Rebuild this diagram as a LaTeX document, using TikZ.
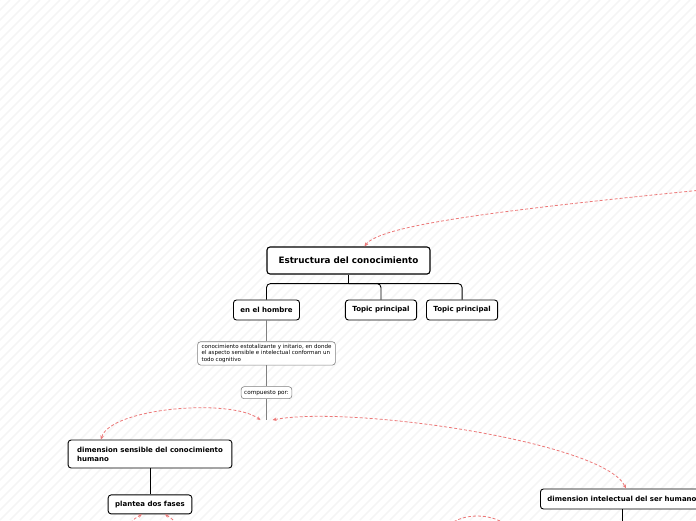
\documentclass[tikz,border=0pt]{standalone}
\usepackage{fontspec}
\setmainfont{DejaVu Sans}
\usetikzlibrary{positioning, arrows.meta}
\definecolor{linkred}{RGB}{236,120,120}
\definecolor{stripegray}{RGB}{245,245,245}

\begin{document}
\begin{tikzpicture}[
        x=1pt, y=-1pt,
        node distance=21pt and 9pt,
        rootbox/.style={draw, fill=white, line width=1.1pt, rounded corners=3pt, minimum width=163pt, minimum height=27pt, font=\fontsize{8.8}{10}\selectfont\bfseries, align=center},
        topic/.style={draw, fill=white, line width=0.9pt, rounded corners=3pt, minimum height=20pt, inner xsep=7pt, font=\fontsize{7}{9}\selectfont\bfseries, align=left},
        note/.style={draw=gray, fill=white, line width=0.6pt, rounded corners=3pt, inner xsep=4pt, inner ysep=2.5pt, font=\fontsize{5.5}{6.5}\selectfont, align=left},
        branch/.style={line width=0.9pt},
        greyline/.style={draw=gray, line width=0.8pt},
        link/.style={draw=linkred, dash pattern=on 3pt off 2pt, line width=0.8pt, -{Stealth[length=4pt,width=3.5pt]}},
        linkboth/.style={link, {Stealth[length=4pt,width=3.5pt]}-{Stealth[length=4pt,width=3.5pt]}},
        linkplain/.style={draw=linkred, dash pattern=on 3pt off 2pt, line width=0.8pt},
        stripe/.style={draw=stripegray, line width=1.5pt}
    ]

    \useasboundingbox (0,0) rectangle (696,520);
    \clip (0,0) rectangle (696,520);
    \foreach \i in {-530,-520,...,700}
        \draw[stripe] (\i,520) -- ++(520,-520);

    \node[rootbox] (Root) at (348.5,260.5) {Estructura del conocimiento};
    \node[topic] (Hombre) at (266.5,310) {en el hombre};
    \node[topic] (TopicA) at (381,310) {Topic principal};
    \node[topic, right=of TopicA] (TopicB) {Topic principal};
    \node[note, below=of Hombre] (Nota) {conocimiento estotalizante y initario, en donde\\el aspecto sensible e intelectual conforman un\\todo cognitivo};
    \node[note, below=of Nota, inner xsep=3pt, inner ysep=1.5pt, minimum height=12pt, font=\fontsize{5.7}{7}\selectfont] (Compuesto) {compuesto por:};
    \coordinate[below=of Compuesto] (Hub);
    \node[topic, inner xsep=9pt, minimum height=28pt] (Sensible) at (150,454) {dimension sensible del conocimiento\\humano};
    \node[topic, below=26pt of Sensible, minimum height=19pt] (Fases) {plantea dos fases};
    \node[topic, anchor=west] (Intelectual) at (540,499) {dimension intelectual del ser humano};

    \coordinate (Fork) at ([yshift=-9pt]Root.south);
    \coordinate (TopFrom) at (722,188);
    \coordinate (FasesFromL) at (126,532);
    \coordinate (FasesFromR) at (182,532);
    \coordinate (IntelEnd) at (Intelectual.south |- 0,530);
    \coordinate (ArcL) at (446,528);
    \coordinate (ArcR) at (510,528);

    \draw[branch] (Root.south) -- (Fork);
    \draw[branch, rounded corners=4pt] (Fork) -| (Hombre.north);
    \draw[branch, rounded corners=4pt] (Fork) -| (TopicA.north);
    \draw[branch, rounded corners=4pt] (Fork) -| (TopicB.north);
    \draw[greyline] (Hombre) -- (Nota);
    \draw[greyline] (Nota) -- (Compuesto);
    \draw[greyline] (Compuesto) -- (Hub);
    \draw[branch] (Sensible) -- (Fases);
    \draw[branch] (Intelectual) -- (IntelEnd);

    \draw[link] (TopFrom) .. controls (500,210) and (380,225) .. ([xshift=16pt]Root.north);
    \draw[linkboth] ([xshift=-49pt]Sensible.north) .. controls (110,408) and (230,398) .. ([xshift=-6pt]Hub);
    \draw[linkboth] ([xshift=6pt]Hub) .. controls (350,405) and (605,442) .. ([xshift=4pt]Intelectual.north);
    \draw[link] (FasesFromL) .. controls (132,520) .. ([xshift=-8pt]Fases.south);
    \draw[link] (FasesFromR) .. controls (174,520) .. ([xshift=15pt]Fases.south);
    \draw[linkplain] (ArcL) .. controls (460,512) and (494,512) .. (ArcR);

\end{tikzpicture}
\end{document}
